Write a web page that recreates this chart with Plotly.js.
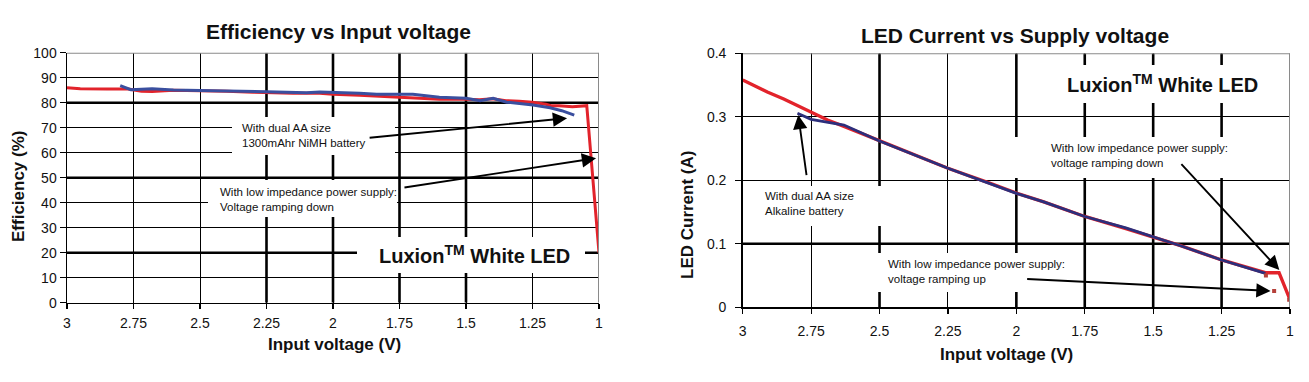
<!DOCTYPE html>
<html><head><meta charset="utf-8">
<script src="https://cdn.plot.ly/plotly-3.0.1.min.js"></script>
<style>html,body{margin:0;padding:0;background:#fff;} #chart{width:1309px;height:382px;}</style>
</head><body><div id="chart"></div>
<script>
// ---------- data ----------
const X_TICKS = [3, 2.75, 2.5, 2.25, 2, 1.75, 1.5, 1.25, 1];
const X_TICK_LABELS = ["3", "2.75", "2.5", "2.25", "2", "1.75", "1.5", "1.25", "1"];
const EFF_TICKS = [0, 10, 20, 30, 40, 50, 60, 70, 80, 90, 100];
const CUR_TICKS = [0, 0.1, 0.2, 0.3, 0.4];
const CUR_TICK_LABELS = ["0", "0.1", "0.2", "0.3", "0.4"];

// Efficiency vs input voltage: low impedance supply, ramping down (red)
const effSupplyV = [3.0, 2.95, 2.85, 2.77, 2.72, 2.68, 2.6, 2.5, 2.4, 2.3, 2.25, 2.15, 2.05, 2.0, 1.9, 1.84, 1.75, 1.65, 1.6, 1.5, 1.45, 1.4, 1.35, 1.3, 1.25, 1.2, 1.18, 1.15, 1.1, 1.046, 1.0];
const effSupply  = [86.0, 85.6, 85.5, 85.5, 84.6, 84.5, 85.0, 84.9, 84.6, 84.2, 84.0, 83.8, 83.8, 83.4, 83.0, 82.7, 82.4, 81.8, 81.4, 81.4, 81.2, 81.6, 80.8, 80.6, 80.2, 79.4, 78.8, 78.8, 78.4, 78.8, 20.0];
// Efficiency vs input voltage: dual AA 1300mAhr NiMH battery (blue)
const effBatteryV = [2.80, 2.76, 2.72, 2.68, 2.6, 2.5, 2.4, 2.25, 2.1, 2.05, 2.0, 1.9, 1.836, 1.7, 1.6, 1.5, 1.447, 1.398, 1.347, 1.3, 1.248, 1.184, 1.14, 1.093];
const effBattery  = [86.8, 85.2, 85.4, 85.6, 85.1, 84.8, 84.7, 84.4, 84.0, 84.3, 84.2, 83.8, 83.4, 83.4, 82.2, 81.8, 80.8, 81.8, 80.2, 79.8, 79.1, 78.0, 76.8, 75.0];

// LED current vs supply voltage: low impedance supply, ramping down (red)
const curSupplyV = [3.0, 2.95, 2.91, 2.85, 2.78, 2.72, 2.69, 2.63, 2.5, 2.4, 2.25, 2.1, 2.0, 1.9, 1.75, 1.6, 1.5, 1.4, 1.25, 1.15, 1.09, 1.04, 1.0];
const curSupply  = [0.358, 0.347, 0.339, 0.328, 0.313, 0.300, 0.295, 0.285, 0.262, 0.245, 0.219, 0.196, 0.180, 0.166, 0.143, 0.124, 0.111, 0.097, 0.0745, 0.062, 0.0545, 0.0545, 0.012];
// LED current: dual AA alkaline battery (blue)
const curBatteryV = [2.80, 2.75, 2.63, 2.5, 2.25, 2.13, 2.0, 1.9, 1.75, 1.6, 1.5, 1.4, 1.25, 1.15, 1.09];
const curBattery  = [0.3055, 0.296, 0.287, 0.262, 0.219, 0.200, 0.1795, 0.166, 0.143, 0.125, 0.111, 0.097, 0.0745, 0.062, 0.0535];
// LED current: low impedance supply, ramping up (points)
const curRampUpV = [1.088, 1.058, 1.003];
const curRampUp  = [0.050, 0.0257, 0.012];

// emphasised grid lines
const EFF_THICK_X = [2.25, 2, 1.75, 1.5];
const EFF_THICK_Y = [80, 50, 20];
const CUR_THICK_X = [2.5, 2, 1.75, 1.5, 1.25];
const CUR_THICK_Y = [0.1];

// ---------- layout helpers ----------
const W = 1309, H = 382;
const fx = p => p / W;
const fy = p => 1 - p / H;
const L = {x0: 67, x1: 599, y0: 52.7, y1: 302.7, xa: 'x', ya: 'y', vmax: 3, vmin: 1, top: 100};
const R = {x0: 742.7, x1: 1290, y0: 53.3, y1: 307.3, xa: 'x2', ya: 'y2', vmax: 3, vmin: 1, top: 0.4};
const pxToV = (b, p) => b.vmax - (p - b.x0) / (b.x1 - b.x0) * (b.vmax - b.vmin);
const pyToY = (b, p) => (b.y1 - p) / (b.y1 - b.y0) * b.top;

const FONT = "Liberation Sans, Arial, Helvetica, sans-serif";
const RED = "#e2232b", BLUE = "#3a4f9f", BLUE2 = "#2c2f7c";

const traces = [
  {x: effSupplyV, y: effSupply, xaxis: 'x', yaxis: 'y', mode: 'lines', line: {color: RED, width: 3}},
  {x: effBatteryV, y: effBattery, xaxis: 'x', yaxis: 'y', mode: 'lines', line: {color: BLUE, width: 3}},
  {x: curSupplyV, y: curSupply, xaxis: 'x2', yaxis: 'y2', mode: 'lines', line: {color: RED, width: 3.4}},
  {x: curBatteryV, y: curBattery, xaxis: 'x2', yaxis: 'y2', mode: 'lines', line: {color: BLUE2, width: 2.8}},
  {x: curRampUpV, y: curRampUp, xaxis: 'x2', yaxis: 'y2', mode: 'markers', marker: {color: '#b5403a', size: 4, symbol: 'square'}}
];

const xBase = {
  range: [3, 1], tickvals: X_TICKS, ticktext: X_TICK_LABELS,
  showgrid: true, gridcolor: '#000', gridwidth: 1, zeroline: false,
  showline: true, linecolor: '#000', linewidth: 1.5,
  ticks: 'outside', ticklen: 5, tickcolor: '#000', tickwidth: 1.2,
  tickfont: {family: FONT, size: 14, color: '#111'}, fixedrange: true
};
const yBase = {
  showgrid: true, gridcolor: '#000', gridwidth: 1, zeroline: false,
  showline: true, linecolor: '#000', linewidth: 1.5,
  ticks: 'outside', ticklen: 6, tickcolor: '#000', tickwidth: 1.2,
  tickfont: {family: FONT, size: 14, color: '#111'}, fixedrange: true
};

const layout = {
  width: W, height: H, margin: {l: 0, r: 0, t: 0, b: 0},
  paper_bgcolor: '#fff', plot_bgcolor: '#fff', showlegend: false,
  xaxis: Object.assign({}, xBase, {domain: [fx(L.x0), fx(L.x1)], anchor: 'y', ticklabelstandoff: 2}),
  yaxis: Object.assign({}, yBase, {domain: [fy(L.y1), fy(L.y0)], anchor: 'x', range: [0, 100], tickvals: EFF_TICKS}),
  xaxis2: Object.assign({}, xBase, {domain: [fx(R.x0), fx(R.x1)], anchor: 'y2', ticklabelstandoff: 5}),
  yaxis2: Object.assign({}, yBase, {domain: [fy(R.y1), fy(R.y0)], anchor: 'x2', range: [0, 0.4], tickvals: CUR_TICKS, ticktext: CUR_TICK_LABELS, ticklabelstandoff: 6}),
  shapes: [], annotations: []
};

function seg(b, x0, x1, y0, y1, layer, color, width) {
  layout.shapes.push({type: 'line', xref: b.xa, yref: b.ya, x0: x0, x1: x1, y0: y0, y1: y1,
    layer: layer, line: {color: color, width: width}});
}
// thick grid lines
EFF_THICK_X.forEach(v => seg(L, v, v, 0, L.top, 'between', '#000', 2.6));
EFF_THICK_Y.forEach(v => seg(L, L.vmax, L.vmin, v, v, 'between', '#000', 2.6));
CUR_THICK_X.forEach(v => seg(R, v, v, 0, R.top, 'between', '#000', 2.6));
CUR_THICK_Y.forEach(v => seg(R, R.vmax, R.vmin, v, v, 'between', '#000', 2.6));

// white label backgrounds (pixel boxes converted to axis units)
function whiteBox(b, x0, x1, y0, y1) {
  layout.shapes.push({type: 'rect', xref: b.xa, yref: b.ya,
    x0: pxToV(b, x0), x1: pxToV(b, x1), y0: pyToY(b, y1), y1: pyToY(b, y0), layer: 'between',
    fillcolor: '#fff', line: {width: 0}});
}
whiteBox(L, 232, 395, 117, 155);
whiteBox(L, 208, 397, 180, 217);
whiteBox(L, 357, 585, 237, 273);
whiteBox(R, 755, 900, 186, 226);
whiteBox(R, 1005, 1240, 137, 178);
whiteBox(R, 872, 1075, 253, 292);
whiteBox(R, 1040, 1285, 65, 103);

// gray top/right frame
[L, R].forEach(b => {
  seg(b, b.vmax, b.vmin, b.top, b.top, 'above', '#8a8a8a', 2);
  seg(b, b.vmin, b.vmin, 0, b.top, 'above', '#8a8a8a', 2);
});

function txt(text, x, y, size, opts) {
  layout.annotations.push(Object.assign({text: text, xref: 'paper', yref: 'paper', x: fx(x), y: fy(y),
    showarrow: false, xanchor: 'center', yanchor: 'middle',
    font: {family: FONT, size: size, color: '#111'}}, opts || {}));
}
// titles
txt('<b>Efficiency vs Input voltage</b>', 338, 31, 21);
txt('<b>LED Current vs Supply voltage</b>', 1015, 35, 21);
txt('<b>Input voltage (V)</b>', 334, 344, 17);
txt('<b>Input voltage (V)</b>', 1006, 354, 17);
txt('<b>Efficiency (%)</b>', 18, 187, 17, {textangle: -90});
txt('<b>LED Current (A)</b>', 688, 215, 17, {textangle: -90});
// labels
txt('<b>Luxion<sup>TM</sup> White LED</b>', 474, 254, 20);
txt('<b>Luxion<sup>TM</sup> White LED</b>', 1162, 83, 20);
const NOTE = {xanchor: 'left', align: 'left'};
txt('With dual AA size<br>1300mAhr NiMH battery', 240, 135, 11.5, NOTE);
txt('With low impedance power supply:<br>Voltage ramping down', 218, 199, 11.5, NOTE);
txt('With dual AA size<br>Alkaline battery', 763, 203, 11.5, NOTE);
txt('With low impedance power supply:<br>voltage ramping down', 1049, 155.5, 11.5, NOTE);
txt('With low impedance power supply:<br>voltage ramping up', 886, 271.5, 11.5, NOTE);

// arrows (axis units: tail -> head)
function arrow(b, tx, ty, hx, hy) {
  layout.annotations.push({text: '', xref: b.xa, yref: b.ya, axref: b.xa, ayref: b.ya,
    x: hx, y: hy, ax: tx, ay: ty, showarrow: true, arrowhead: 2, arrowsize: 1.5,
    arrowwidth: 1.9, arrowcolor: '#000', standoff: 0, startstandoff: 0});
}
arrow(L, 1.868, 65.9, 1.12, 73.8);
arrow(L, 1.737, 46.0, 1.011, 57.8);
arrow(R, 2.766, 0.2057, 2.797, 0.303);
arrow(R, 1.402, 0.2277, 1.039, 0.0587);
arrow(R, 1.966, 0.0446, 1.071, 0.0257);

Plotly.newPlot('chart', traces, layout, {displayModeBar: false, staticPlot: true});
</script>
</body></html>
